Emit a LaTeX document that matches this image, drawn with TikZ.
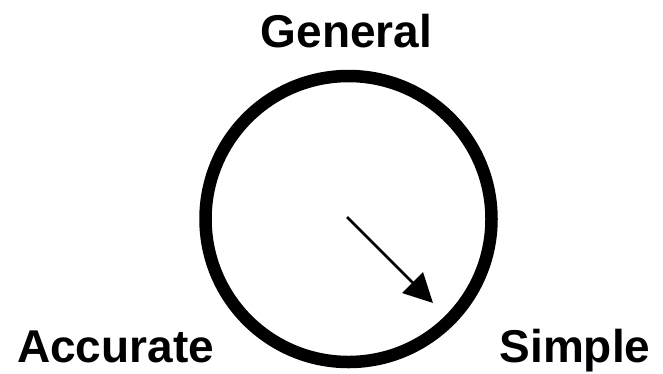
\documentclass[tikz,border=0pt]{standalone}
\usepackage{fontspec}
\setmainfont{Liberation Sans}
\usetikzlibrary{arrows.meta}

\begin{document}
\begin{tikzpicture}[x=1pt, y=-1pt]
        \tikzstyle{lbl} = [font=\fontsize{46}{50}\selectfont\bfseries, anchor=base, inner sep=0pt]
        \useasboundingbox (0, 0) rectangle (663, 373);
        \node[draw, circle, line width=12.5pt, minimum size=286pt, inner sep=0pt] (dial) at (348.5, 219) {};
        \node[lbl] (G) at (346.5, 47) {General};
        \node[lbl] (A) at (115.5, 362.5) {Accurate};
        \node[lbl] (S) at (575, 362.5) {Simple};
        \coordinate (tip) at (433, 303);
        \draw[-{Triangle[length=29pt, width=29pt]}, line width=2.7pt] (347, 217) -- (tip);
      \end{tikzpicture}
\end{document}
